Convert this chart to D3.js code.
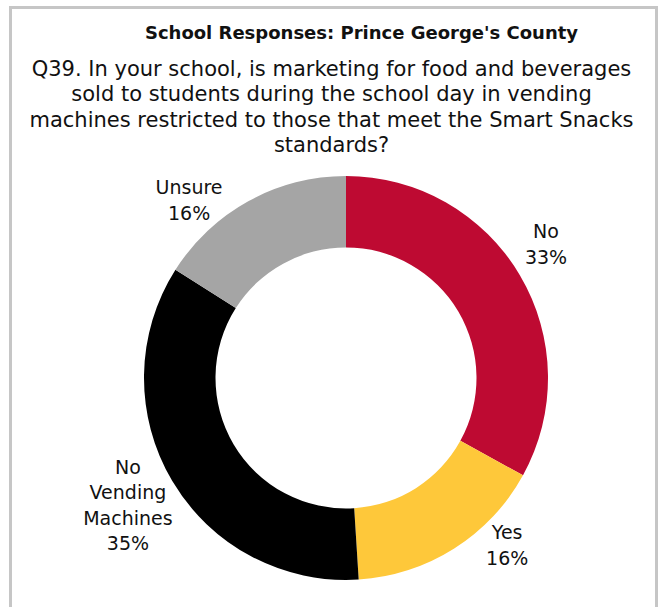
<!DOCTYPE html>
<html><head><meta charset="utf-8">
<script src="https://cdn.jsdelivr.net/npm/d3@7"></script>
<style>
html,body{margin:0;padding:0;background:#fff;}
svg{display:block;}
text{font-family:"DejaVu Sans",sans-serif;fill:#111;}
</style></head>
<body>
<svg id="c" width="661" height="607"></svg>
<script>
const categories = ["No", "Yes", "No Vending Machines", "Unsure"];
const values = [33, 16, 35, 16];
const colors = ["#BE0A32", "#FEC83A", "#000000", "#A5A5A5"];
const title = "School Responses: Prince George's County";
const question = ["Q39. In your school, is marketing for food and beverages",
  "sold to students during the school day in vending",
  "machines restricted to those that meet the Smart Snacks",
  "standards?"];

const svg = d3.select("#c");
// frame
svg.append("rect").attr("x",10.5).attr("y",7.5).attr("width",646).attr("height",640)
  .attr("fill","none").attr("stroke","#c6c6c6").attr("stroke-width",3);

svg.append("text").attr("x",361.5).attr("y",39).attr("text-anchor","middle")
  .attr("font-size",18).attr("font-weight","bold").text(title);

svg.selectAll("text.q").data(question).join("text").attr("class","q")
  .attr("x",331.5).attr("y",(d,i)=>76+i*25.3).attr("text-anchor","middle")
  .attr("font-size",21).text(d=>d);

const cx = 346, cy = 378, R = 202, r = 130.5;
const data = categories.map((c,i)=>({cat:c, value:values[i], color:colors[i]}));
const pie = d3.pie().value(d=>d.value).sort(null);
const arc = d3.arc().innerRadius(r).outerRadius(R);
const g = svg.append("g").attr("transform",`translate(${cx},${cy})`);
const arcs = pie(data);
g.selectAll("path").data(arcs).join("path").attr("d",arc).attr("fill",d=>d.data.color);

// label placement (polar, degrees clockwise from top, radius)
const labelPolar = [[56.2,240.7],[136.0,232],[239.8,252.3],[318.6,237.3]];
const lab = g.selectAll("g.lab").data(arcs).join("g").attr("class","lab")
  .attr("transform",(d,i)=>{const a=labelPolar[i][0]*Math.PI/180, rr=labelPolar[i][1];
    return `translate(${rr*Math.sin(a)},${-rr*Math.cos(a)})`;});
lab.each(function(d){
  const lines = (d.data.cat==="No Vending Machines" ? ["No","Vending","Machines"] : [d.data.cat]).concat([d.data.value+"%"]);
  const n = lines.length, lh = 25.5;
  d3.select(this).selectAll("text").data(lines).join("text")
    .attr("text-anchor","middle").attr("font-size",19)
    .attr("y",(t,i)=>(i-(n-1)/2)*lh+7).text(t=>t);
});
</script>
</body></html>
